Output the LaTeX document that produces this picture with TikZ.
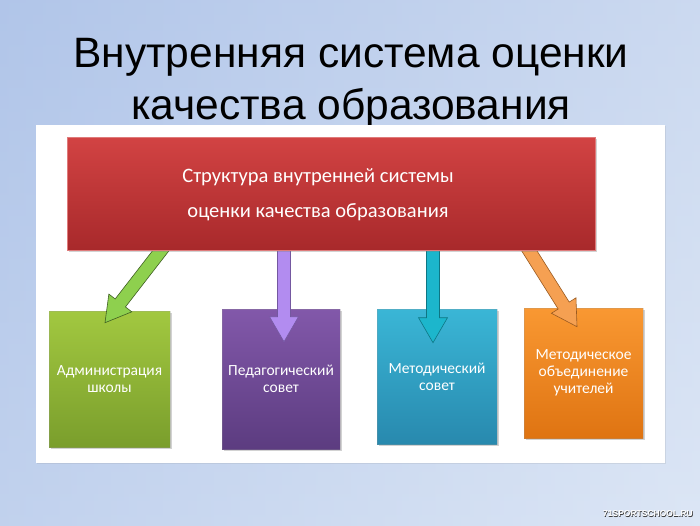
\documentclass[tikz,border=0pt]{standalone}
\usepackage{fontspec}
\setmainfont{Liberation Sans}
\newfontfamily\boxfont{Carlito}
\usetikzlibrary{shadows,calc}
\definecolor{bgL}{HTML}{A6BDE6}
\definecolor{bgR}{HTML}{DCE6F5}
\definecolor{redT}{HTML}{D24343}
\definecolor{redB}{HTML}{A8292B}
\definecolor{grnT}{HTML}{A2C840}
\definecolor{grnB}{HTML}{7A9E2C}
\definecolor{purT}{HTML}{8258AA}
\definecolor{purB}{HTML}{5C3C80}
\definecolor{tealT}{HTML}{3AB6D6}
\definecolor{tealB}{HTML}{2889AE}
\definecolor{orT}{HTML}{F99832}
\definecolor{orB}{HTML}{DF7412}
\definecolor{grnA}{HTML}{8ED04E}
\definecolor{grnAL}{HTML}{3F5F22}
\definecolor{purA}{HTML}{B28CF0}
\definecolor{purAL}{HTML}{7458A0}
\definecolor{tealA}{HTML}{1CB6CC}
\definecolor{tealAL}{HTML}{0E7684}
\definecolor{orA}{HTML}{F5A052}
\definecolor{orAL}{HTML}{9A5A20}
\newcommand\blkarrow[4]{%
  \coordinate (hb) at ($(#2)!25pt!(#1)$);
  \filldraw[draw=#4, line width=0.6pt, fill=#3, line join=miter]
    ($(#1)!6.5pt!90:(#2)$) -- ($(hb)!6.5pt!90:(#2)$) -- ($(hb)!14.5pt!90:(#2)$)
    -- (#2) -- ($(hb)!14.5pt!-90:(#2)$) -- ($(hb)!6.5pt!-90:(#2)$)
    -- ($(#1)!6.5pt!-90:(#2)$) -- cycle;}
\begin{document}
\begin{tikzpicture}[x=1pt,y=-1pt,
  subbox/.style={minimum width=#1, inner sep=0pt, draw=white!60!black, draw opacity=0.25,
    line width=0.6pt, text=white, align=center,
    font=\boxfont\fontsize{15.5}{17}\selectfont,
    drop shadow={opacity=0.35, shadow xshift=2pt, shadow yshift=-2pt}},
  ttl/.style={font=\fontsize{42.5}{42}\selectfont, anchor=base, inner sep=0pt}]
\useasboundingbox (0,0) rectangle (700,525);
\shade[left color=bgL, right color=bgR] (0,0) rectangle (700,525);
\shade[top color=bgL!60!bgR, bottom color=bgR, opacity=0.5] (0,0) rectangle (700,525);
% title
\node[ttl] (t1) at (351,67) {Внутренняя система оценки};
\node[ttl] (t2) at (351,119) {качества образования};
% panel
\node[fill=white, minimum width=629pt, minimum height=338pt, inner sep=0pt,
  drop shadow={opacity=0.15, shadow xshift=1pt, shadow yshift=-1pt}] (panel) at (350.5,294) {};
% sub boxes
\node[subbox=121pt, minimum height=136pt, top color=grnT, bottom color=grnB] (adm) at (109.5,379)
  {Администрация\\школы};
\node[subbox=118pt, minimum height=140pt, top color=purT, bottom color=purB] (ped) at (281,379)
  {Педагогический\\совет};
\node[subbox=120pt, minimum height=135pt, top color=tealT, bottom color=tealB] (met) at (437,376.5)
  {Методический\\совет};
\node[subbox=119pt, minimum height=130pt, top color=orT, bottom color=orB] (mo) at (583.5,373)
  {Методическое\\объединение\\учителей};
% arrows
\coordinate (ga) at (166,244);
\coordinate (gt) at ($(adm.north)+(-4.5,12)$);
\coordinate (pa) at (284,244);
\coordinate (pt) at ($(ped.north)+(3,33)$);
\coordinate (ta) at (433,244);
\coordinate (tt) at ($(met.north)+(-4,34)$);
\coordinate (oa) at (525,244);
\coordinate (ot) at ($(mo.north)+(-6.5,19)$);
\blkarrow{ga}{gt}{grnA}{grnAL}
\blkarrow{pa}{pt}{purA}{purAL}
\blkarrow{ta}{tt}{tealA}{tealAL}
\blkarrow{oa}{ot}{orA}{orAL}
% red box
\node[minimum width=528pt, minimum height=113pt, inner sep=0pt, top color=redT, bottom color=redB,
  draw=redT!70!white, line width=0.8pt,
  drop shadow={opacity=0.35, shadow xshift=2pt, shadow yshift=-2pt}] (red) at (331,193.5) {};
\node[text=white, align=center, font=\boxfont\fontsize{20.5}{35}\selectfont] (redtxt) at (318,195)
  {Структура внутренней системы\\оценки качества образования};
% watermark
\node[font=\bfseries\fontsize{8.5}{9}\selectfont, text=black!80, inner sep=0pt] (wm0) at (648.6,514.6) {71SPORTSCHOOL.RU};
\node[font=\bfseries\fontsize{8.5}{9}\selectfont, text=white, inner sep=0pt] (wm) at (648,514) {71SPORTSCHOOL.RU};
\end{tikzpicture}
\end{document}
